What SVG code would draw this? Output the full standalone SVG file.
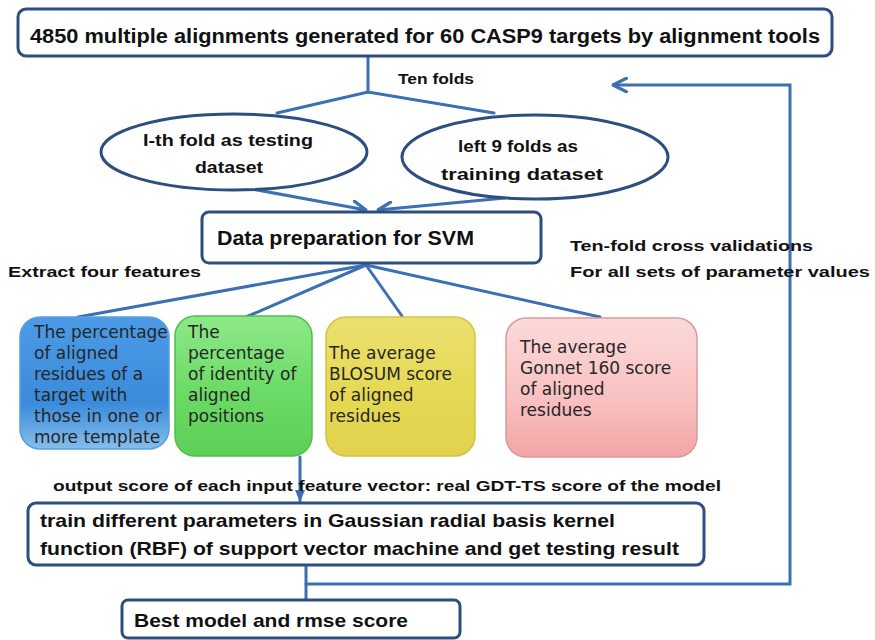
<svg xmlns="http://www.w3.org/2000/svg" width="875" height="640" viewBox="0 0 875 640">
<defs>
<style>
.box{fill:#fff;stroke:#2d4f80;stroke-width:3}
.ell{fill:#fff;stroke:#2d4f80;stroke-width:3}
.con{fill:none;stroke:#3d70b3;stroke-width:3;stroke-linecap:round}
.t{font-family:"Liberation Sans",Arial,sans-serif;font-weight:bold;fill:#111}
.f{font-family:"DejaVu Sans",Verdana,sans-serif;font-size:17px;fill:#262626}
</style>
<marker id="open" markerUnits="userSpaceOnUse" markerWidth="16" markerHeight="16" viewBox="0 0 12 12" refX="11" refY="6" orient="auto">
<path d="M1,1 L11,6 L1,11" fill="none" stroke="#3d70b3" stroke-width="2.5" stroke-linecap="round" stroke-linejoin="round"/>
</marker>
<marker id="solid" markerUnits="userSpaceOnUse" markerWidth="12" markerHeight="12" viewBox="0 0 12 12" refX="11" refY="6" orient="auto">
<path d="M0,1 L12,6 L0,11 Z" fill="#3d70b3"/>
</marker>
<linearGradient id="gBlue" x1="0" y1="0" x2="0" y2="1">
<stop offset="0" stop-color="#4c9be6"/><stop offset="0.65" stop-color="#3a8bdb"/><stop offset="1" stop-color="#86bdec"/>
</linearGradient>
<linearGradient id="gGreen" x1="0" y1="0" x2="0" y2="1">
<stop offset="0" stop-color="#8ee889"/><stop offset="0.5" stop-color="#6edc68"/><stop offset="1" stop-color="#5ccf57"/>
</linearGradient>
<linearGradient id="gYellow" x1="0" y1="0" x2="0" y2="1">
<stop offset="0" stop-color="#ebe070"/><stop offset="0.5" stop-color="#e6d955"/><stop offset="1" stop-color="#e0d24c"/>
</linearGradient>
<linearGradient id="gPink" x1="0" y1="0" x2="0" y2="1">
<stop offset="0" stop-color="#fcdada"/><stop offset="0.6" stop-color="#f8c0c0"/><stop offset="1" stop-color="#f4a4a4"/>
</linearGradient>
</defs>
<rect width="875" height="640" fill="#fff"/>

<g id="connectors">
<line class="con" x1="368" y1="57" x2="368" y2="92"/>
<polyline class="con" points="277,113 368,92 494,113"/>
<line class="con" x1="252" y1="189" x2="366" y2="210" marker-end="url(#open)"/>
<line class="con" x1="505" y1="198" x2="378" y2="210" marker-end="url(#open)"/>
<line class="con" x1="366" y1="265" x2="78" y2="317"/>
<line class="con" x1="366" y1="265" x2="246" y2="317"/>
<line class="con" x1="366" y1="265" x2="402" y2="316"/>
<line class="con" x1="366" y1="265" x2="600" y2="317"/>
<line class="con" x1="300" y1="457" x2="300" y2="501" marker-end="url(#solid)"/>
<line class="con" x1="306" y1="566" x2="306" y2="600"/>
<polyline class="con" points="306,584 790,584 790,85 613,85" marker-end="url(#open)"/>
</g>

<g id="n_top">
<rect class="box" x="18" y="9" width="814" height="47" rx="8"/>
<text class="t" x="30" y="43" font-size="20" textLength="790" lengthAdjust="spacingAndGlyphs">4850 multiple alignments generated for 60 CASP9 targets by alignment tools</text>
</g>

<text class="t" x="398" y="84" font-size="15" textLength="76" lengthAdjust="spacingAndGlyphs">Ten folds</text>

<g id="n_test">
<ellipse class="ell" cx="234" cy="152" rx="133" ry="38"/>
<text class="t" x="228" y="146" font-size="16" text-anchor="middle" textLength="170" lengthAdjust="spacingAndGlyphs">I-th fold as testing</text>
<text class="t" x="229" y="173" font-size="16" text-anchor="middle" textLength="68" lengthAdjust="spacingAndGlyphs">dataset</text>
</g>

<g id="n_train">
<ellipse class="ell" cx="535" cy="157" rx="133" ry="42"/>
<text class="t" x="518" y="152" font-size="16" text-anchor="middle" textLength="120" lengthAdjust="spacingAndGlyphs">left 9 folds as</text>
<text class="t" x="522" y="180" font-size="16" text-anchor="middle" textLength="162" lengthAdjust="spacingAndGlyphs">training dataset</text>
</g>

<g id="n_prep">
<rect class="box" x="202" y="212" width="339" height="51" rx="7"/>
<text class="t" x="217" y="245" font-size="20" textLength="257" lengthAdjust="spacingAndGlyphs">Data preparation for SVM</text>
</g>

<text class="t" x="8" y="277" font-size="15" textLength="193" lengthAdjust="spacingAndGlyphs">Extract four features</text>
<text class="t" x="570" y="251" font-size="15" textLength="243" lengthAdjust="spacingAndGlyphs">Ten-fold cross validations</text>
<text class="t" x="570" y="277" font-size="15" textLength="300" lengthAdjust="spacingAndGlyphs">For all sets of parameter values</text>

<g id="n_f1">
<rect x="20" y="317" width="149" height="132" rx="20" fill="url(#gBlue)" stroke="#5a9ee0" stroke-width="1.5"/>
<text class="f"><tspan x="34" y="338">The percentage</tspan><tspan x="34" y="359">of aligned</tspan><tspan x="34" y="380">residues of a</tspan><tspan x="34" y="401">target with</tspan><tspan x="34" y="422">those in one or</tspan><tspan x="34" y="443">more template</tspan></text>
</g>

<g id="n_f2">
<rect x="175" y="316" width="137" height="140" rx="20" fill="url(#gGreen)" stroke="#4fc04a" stroke-width="1.5"/>
<text class="f"><tspan x="188" y="338">The</tspan><tspan x="188" y="359">percentage</tspan><tspan x="188" y="380">of identity of</tspan><tspan x="188" y="401">aligned</tspan><tspan x="188" y="422">positions</tspan></text>
</g>

<g id="n_f3">
<rect x="326" y="317" width="149" height="139" rx="20" fill="url(#gYellow)" stroke="#d2c440" stroke-width="1.5"/>
<text class="f"><tspan x="329" y="359">The average</tspan><tspan x="329" y="380">BLOSUM score</tspan><tspan x="329" y="401">of aligned</tspan><tspan x="329" y="422">residues</tspan></text>
</g>

<g id="n_f4">
<rect x="506" y="318" width="191" height="139" rx="20" fill="url(#gPink)" stroke="#d89a9a" stroke-width="1.5"/>
<text class="f"><tspan x="520" y="353">The average</tspan><tspan x="520" y="374">Gonnet 160 score</tspan><tspan x="520" y="395">of aligned</tspan><tspan x="520" y="416">residues</tspan></text>
</g>

<text class="t" x="53" y="491" font-size="15" textLength="668" lengthAdjust="spacingAndGlyphs">output score of each input feature vector: real GDT-TS score of the model</text>

<g id="n_svm">
<rect class="box" x="28" y="503" width="676" height="62" rx="8"/>
<text class="t" x="40" y="527" font-size="19" textLength="575" lengthAdjust="spacingAndGlyphs">train different parameters in Gaussian radial basis kernel</text>
<text class="t" x="40" y="555" font-size="19" textLength="639" lengthAdjust="spacingAndGlyphs">function (RBF) of support vector machine and get testing result</text>
</g>

<g id="n_best">
<rect class="box" x="122" y="600" width="338" height="38" rx="6"/>
<text class="t" x="134" y="627" font-size="19" textLength="274" lengthAdjust="spacingAndGlyphs">Best model and rmse score</text>
</g>
</svg>
